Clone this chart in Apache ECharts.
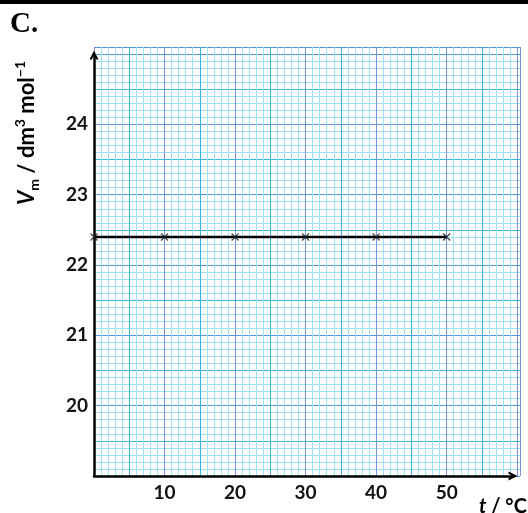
<!DOCTYPE html>
<html>
<head>
<meta charset="utf-8">
<script src="https://cdn.jsdelivr.net/npm/echarts@6/dist/echarts.min.js"></script>
<style>
    html, body { margin: 0; padding: 0; background: #fff; }
    #chart { width: 528px; height: 513px; }
</style>
</head>
<body>
<div id="chart"></div>
<script>
"use strict";

// temperature t / °C and molar volume Vm / dm3 mol-1
var temperatures = [0, 10, 20, 30, 40, 50];
var molarVolumes = [22.4, 22.4, 22.4, 22.4, 22.4, 22.4];
var xTickLabels = [10, 20, 30, 40, 50];
var yTickLabels = [20, 21, 22, 23, 24];

(function () {

    function chartVM() {
        let self = this;

        self.labelFont = { fontFamily: 'Lato', fontWeight: 'bold', fontSize: 19, color: '#111' };

        self.paperAxis = function (kind, interval, color, withLabels) {
            let isX = kind === 'x';
            let ticks = isX ? xTickLabels : yTickLabels;
            return {
                type: 'value',
                gridIndex: 0,
                position: isX ? 'bottom' : 'left',
                offset: 0,
                min: isX ? 0 : 19,
                max: isX ? 60.4 : 25.1,
                interval: interval,
                axisLine: { show: false, onZero: false },
                axisTick: { show: false },
                splitLine: { show: true, lineStyle: { color: color, width: 1 } },
                axisLabel: {
                    show: withLabels,
                    margin: isX ? 7 : 6,
                    fontFamily: self.labelFont.fontFamily,
                    fontWeight: self.labelFont.fontWeight,
                    fontSize: self.labelFont.fontSize,
                    color: self.labelFont.color,
                    formatter: function (v) {
                        return ticks.indexOf(Math.round(v * 10) / 10) >= 0 ? String(v) : '';
                    }
                }
            };
        };

        self.arrowAxis = function (kind) {
            return {
                type: 'value',
                gridIndex: 1,
                position: kind === 'x' ? 'bottom' : 'left',
                offset: 0,
                min: 0,
                max: 1,
                axisLine: {
                    show: true,
                    onZero: false,
                    symbol: ['none', 'path://M0,10 L5,0 L10,10 L7.4,10 L5,5 L2.6,10 Z'],
                    symbolSize: [12, 9],
                    lineStyle: { color: '#000', width: 2.5 }
                },
                axisTick: { show: false },
                axisLabel: { show: false },
                splitLine: { show: false }
            };
        };

        self.buildOption = function () {
            let points = temperatures.map(function (t, i) { return [t, molarVolumes[i]]; });
            return {
                animation: false,
                backgroundColor: '#fff',
                grid: [
                    { left: 94, right: 8, top: 47, bottom: 37, outerBoundsMode: 'none' },
                    { left: 94, right: 15, top: 55, bottom: 37, outerBoundsMode: 'none' }
                ],
                xAxis: [
                    self.paperAxis('x', 1, '#9de2f6', false),
                    self.paperAxis('x', 5, '#36b2e6', false),
                    self.paperAxis('x', 10, '#7893e6', true),
                    self.arrowAxis('x')
                ],
                yAxis: [
                    self.paperAxis('y', 0.1, '#9de2f6', false),
                    self.paperAxis('y', 0.5, '#36b2e6', false),
                    self.paperAxis('y', 1, '#5496e4', true),
                    self.arrowAxis('y')
                ],
                series: [{
                    type: 'line',
                    xAxisIndex: 2,
                    yAxisIndex: 2,
                    data: points,
                    symbol: 'none',
                    lineStyle: { color: '#000', width: 2.5 },
                    z: 5
                }, {
                    type: 'scatter',
                    xAxisIndex: 2,
                    yAxisIndex: 2,
                    data: points,
                    symbol: 'path://M0,0 L10,10 M10,0 L0,10',
                    symbolSize: 7,
                    itemStyle: { color: 'transparent', borderColor: '#222', borderWidth: 1.4 },
                    z: 6
                }],
                graphic: [{
                    type: 'rect',
                    shape: { x: 0, y: 0, width: 528, height: 4 },
                    style: { fill: '#000' }
                }, {
                    type: 'text',
                    x: 10,
                    y: 10,
                    style: { text: 'C.', fontFamily: 'Liberation Serif', fontWeight: 'bold', fontSize: 29, fill: '#000' }
                }, {
                    type: 'text',
                    x: 27,
                    y: 133,
                    rotation: Math.PI / 2,
                    style: {
                        text: '{v|V}{s|m}{n| / dm}{p|3}{n| mol}{p|−1}',
                        align: 'center',
                        verticalAlign: 'middle',
                        rich: {
                            v: { fontFamily: 'Lato', fontWeight: 'bold', fontStyle: 'italic', fontSize: 22, lineHeight: 28, verticalAlign: 'middle', fill: '#000' },
                            n: { fontFamily: 'Lato', fontWeight: 'bold', fontSize: 22, lineHeight: 28, verticalAlign: 'middle', fill: '#000' },
                            s: { fontFamily: 'Lato', fontWeight: 'bold', fontSize: 14, lineHeight: 13, verticalAlign: 'bottom', fill: '#000' },
                            p: { fontFamily: 'Lato', fontWeight: 'bold', fontSize: 14, lineHeight: 13, verticalAlign: 'top', fill: '#000' }
                        }
                    }
                }, {
                    type: 'text',
                    x: 479,
                    y: 497,
                    style: {
                        text: '{t|t}{n| / °C}',
                        rich: {
                            t: { fontFamily: 'Lato', fontWeight: 'bold', fontStyle: 'italic', fontSize: 20, fill: '#000' },
                            n: { fontFamily: 'Lato', fontWeight: 'bold', fontSize: 20, fill: '#000' }
                        }
                    }
                }]
            };
        };

        self.render = function () {
            try {
                self.chart = echarts.init(document.getElementById('chart'), null, { renderer: 'canvas' });
                self.chart.setOption(self.buildOption());
            } catch (e) {
                console.log(e.name + ': ' + e.message);
            }
        };
    }

    window.ChartVM = new chartVM();
    window.ChartVM.render();
})();
</script>
</body>
</html>
